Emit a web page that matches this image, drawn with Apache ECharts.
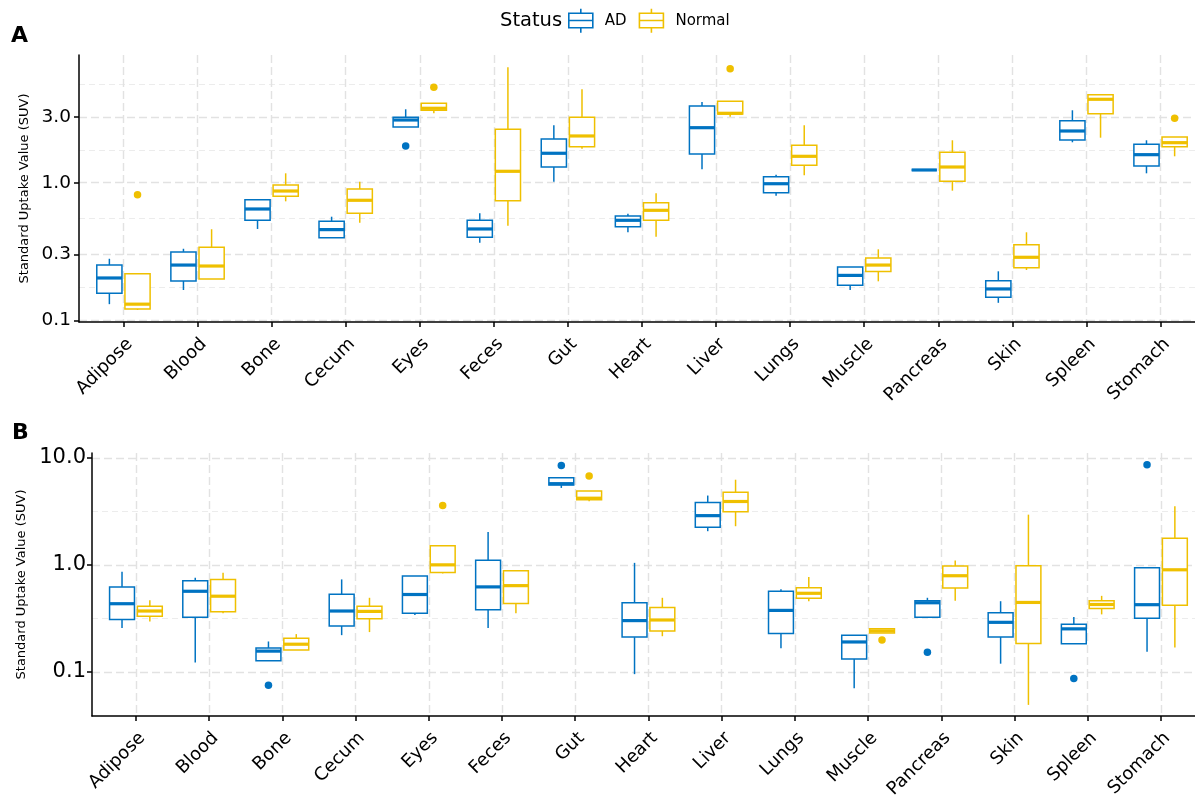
<!DOCTYPE html>
<html>
<head>
<meta charset="utf-8">
<script src="https://cdn.jsdelivr.net/npm/echarts@6/dist/echarts.min.js"></script>
<style>html,body{margin:0;padding:0;background:#fff}#chart{width:1195px;height:801px}</style>
</head>
<body>
<div id="chart"></div>
<script>
// ---------------- data ----------------
const CATEGORIES = ['Adipose','Blood','Bone','Cecum','Eyes','Feces','Gut','Heart','Liver','Lungs','Muscle','Pancreas','Skin','Spleen','Stomach'];
const GROUPS = ['AD','Normal'];

// Panel A : [lower whisker, Q1, median, Q3, upper whisker] (SUV)
const A_AD = [
  [0.131,0.157,0.203,0.252,0.280],
  [0.166,0.193,0.252,0.314,0.331],
  [0.461,0.533,0.644,0.752,0.752],
  [0.398,0.398,0.456,0.524,0.566],
  [2.540,2.540,2.855,2.988,3.415],
  [0.366,0.401,0.461,0.533,0.599],
  [1.017,1.300,1.636,2.078,2.613],
  [0.436,0.479,0.533,0.573,0.595],
  [1.251,1.616,2.510,3.609,3.859],
  [0.804,0.846,0.983,1.106,1.143],
  [0.166,0.180,0.212,0.244,0.244],
  [1.237,1.237,1.237,1.237,1.237],
  [0.134,0.147,0.169,0.194,0.227],
  [1.966,2.043,2.375,2.822,3.359],
  [1.170,1.323,1.598,1.901,2.033]
];
const A_NORMAL = [
  [0.119,0.121,0.131,0.218,0.218],
  [0.200,0.200,0.248,0.339,0.459],
  [0.732,0.797,0.870,0.962,1.170],
  [0.512,0.599,0.745,0.900,1.017],
  [3.194,3.359,3.473,3.776,3.776],
  [0.487,0.740,1.210,2.444,6.898],
  [1.766,1.827,2.185,2.988,4.773],
  [0.405,0.533,0.630,0.716,0.838],
  [3.017,3.157,3.194,3.905,3.905],
  [1.132,1.338,1.555,1.870,2.613],
  [0.192,0.226,0.252,0.284,0.328],
  [0.875,1.024,1.300,1.663,2.033],
  [0.232,0.241,0.287,0.354,0.436],
  [2.123,3.173,4.037,4.360,4.360],
  [1.555,1.827,1.953,2.148,2.148]
];
// outliers: [category, SUV]
const A_AD_OUT = [['Eyes',1.848]];
const A_NORMAL_OUT = [['Adipose',0.818],['Eyes',4.935],['Liver',6.737],['Stomach',2.938]];

// Panel B
const B_AD = [
  [0.256,0.308,0.433,0.622,0.861],
  [0.122,0.323,0.566,0.711,0.758],
  [0.127,0.127,0.156,0.167,0.192],
  [0.220,0.268,0.370,0.531,0.731],
  [0.339,0.352,0.528,0.786,0.786],
  [0.256,0.381,0.622,1.106,2.034],
  [5.241,5.587,5.744,6.530,6.530],
  [0.095,0.211,0.301,0.442,1.044],
  [2.064,2.248,2.885,3.831,4.448],
  [0.166,0.228,0.375,0.566,0.590],
  [0.070,0.132,0.190,0.220,0.220],
  [0.323,0.323,0.442,0.461,0.492],
  [0.119,0.212,0.290,0.357,0.457],
  [0.183,0.183,0.252,0.278,0.325],
  [0.154,0.316,0.424,0.938,0.938]
];
const B_NORMAL = [
  [0.295,0.330,0.370,0.409,0.467],
  [0.352,0.365,0.509,0.731,0.843],
  [0.160,0.160,0.181,0.206,0.225],
  [0.235,0.314,0.367,0.411,0.492],
  [0.831,0.849,1.000,1.509,1.509],
  [0.352,0.435,0.639,0.880,0.886],
  [3.939,4.058,4.200,4.917,4.917],
  [0.215,0.241,0.305,0.400,0.492],
  [2.297,3.142,3.913,4.771,6.255],
  [0.457,0.488,0.542,0.612,0.769],
  [0.231,0.231,0.241,0.252,0.252],
  [0.461,0.609,0.791,0.973,1.096],
  [0.049,0.184,0.445,0.979,2.948],
  [0.344,0.391,0.426,0.461,0.513],
  [0.169,0.420,0.899,1.778,3.540]
];
const B_AD_OUT = [['Bone',0.0747],['Gut',8.486],['Pancreas',0.152],['Spleen',0.0867],['Stomach',8.613]];
const B_NORMAL_OUT = [['Eyes',3.594],['Gut',6.77],['Muscle',0.198]];

// tick labels (SUV, log scale)
const A_Y_TICKS = [0.1, 0.3, 1.0, 3.0];
const B_Y_TICKS = [0.1, 1.0, 10.0];
const A_Y_RANGE = [0.0972, 8.47];
const B_Y_RANGE = [0.0386, 11.12];

// ---------------- styling / helpers ----------------
const COLORS = {AD:'#0073C2', Normal:'#EFC000'};
const FONT = 'DejaVu Sans';
const BOX_W = 0.34, DODGE = 0.19;
const X_MIN = -0.6, X_MAX = 14.465;   // plot panel is cut at the right image edge
const lg = Math.log10;

function minorBreaks(ticks, range) {
  const b = ticks.map(lg);
  const bd = b[1] - b[0];
  const lo = lg(range[0]), hi = lg(range[1]);
  if (lo < b[0]) b.unshift(b[0] - bd);
  if (hi > b[b.length-1]) b.push(b[b.length-1] + bd);
  const out = [];
  for (let i = 0; i < b.length - 1; i++) {
    const m = (b[i] + b[i+1]) / 2;
    if (m > lo && m < hi) out.push(m);
  }
  return out;
}

function boxRender(offset, color) {
  return function (params, api) {
    const x = api.value(0) + offset;
    const pLo = api.coord([x, api.value(1)]);
    const pQ1 = api.coord([x, api.value(2)]);
    const pMed = api.coord([x, api.value(3)]);
    const pQ3 = api.coord([x, api.value(4)]);
    const pHi = api.coord([x, api.value(5)]);
    const hw = api.size([BOX_W, 0])[0] / 2;
    const cx = pMed[0];
    return {
      type: 'group',
      children: [
        {type:'line', shape:{x1:cx, y1:pQ3[1], x2:cx, y2:pHi[1]}, style:{stroke:color, lineWidth:1.5}},
        {type:'line', shape:{x1:cx, y1:pQ1[1], x2:cx, y2:pLo[1]}, style:{stroke:color, lineWidth:1.5}},
        {type:'rect', shape:{x:cx-hw, y:pQ3[1], width:2*hw, height:pQ1[1]-pQ3[1]}, style:{fill:'#ffffff', stroke:color, lineWidth:1.5}},
        {type:'line', shape:{x1:cx-hw, y1:pMed[1], x2:cx+hw, y2:pMed[1]}, style:{stroke:color, lineWidth:3.2}}
      ]
    };
  };
}

const catIdx = CATEGORIES.map((c, i) => i);
const gridLine = {show:true, lineStyle:{type:[8,4], color:'#e2e2e2', width:1.4}};
const minorLine = {show:true, lineStyle:{type:[6,4], color:'#ececec', width:1}};

function xAxis(gi) {
  return {
    type:'value', gridIndex:gi, min:X_MIN, max:X_MAX,
    axisLine:{show:true, onZero:false, lineStyle:{color:'#000', width:1.5}},
    axisTick:{show:true, customValues:catIdx, length:5, lineStyle:{color:'#000', width:1.5}},
    axisLabel:{customValues:catIdx, formatter:v => CATEGORIES[Math.round(v)], rotate:45,
               align:'right', verticalAlign:'top',
               fontSize:18, color:'#000', fontFamily:FONT, margin:13},
    splitLine:gridLine
  };
}
function yAxisMain(gi, ticks, range, fontSize, nameGap, margin) {
  const tv = ticks.map(lg);
  return {
    type:'value', gridIndex:gi, min:lg(range[0]), max:lg(range[1]),
    name:'Standard Uptake Value (SUV)', nameLocation:'middle', nameGap:nameGap,
    nameTextStyle:{fontSize:13, color:'#000', fontFamily:FONT},
    axisLine:{show:true, onZero:false, lineStyle:{color:'#000', width:1.5}},
    axisTick:{show:true, customValues:tv, length:5, lineStyle:{color:'#000', width:1.5}},
    axisLabel:{customValues:tv, formatter:v => Math.pow(10, v).toFixed(1),
               fontSize:fontSize, color:'#000', fontFamily:FONT, margin:margin},
    splitLine:gridLine
  };
}
function yAxisMinor(gi, ticks, range) {
  const mv = minorBreaks(ticks, range);
  return {
    type:'value', gridIndex:gi, min:lg(range[0]), max:lg(range[1]), position:'left',
    axisLine:{show:false}, axisLabel:{show:false},
    axisTick:{show:false, customValues:mv},
    splitLine:minorLine
  };
}

function boxSeries(name, rows, xi, yi, offset) {
  return {
    type:'custom', name:name, xAxisIndex:xi, yAxisIndex:yi,
    renderItem:boxRender(offset, COLORS[name]),
    encode:{x:0, y:[1,2,3,4,5]},
    itemStyle:{color:COLORS[name]},
    data:rows.map((r, i) => [i].concat(r.map(lg))),
    z:3, silent:true
  };
}
function outlierSeries(name, pts, xi, yi, offset) {
  return {
    type:'scatter', name:name, xAxisIndex:xi, yAxisIndex:yi,
    symbol:'circle', symbolSize:7.5,
    itemStyle:{color:COLORS[name], opacity:1},
    data:pts.map(p => [CATEGORIES.indexOf(p[0]) + offset, lg(p[1])]),
    z:4, silent:true
  };
}

const iconPath = 'path://M0,4.5L24,4.5L24,19L0,19ZM0,11.75L24,11.75M12,0L12,4.5M12,19L12,24';

const option = {
  animation:false,
  backgroundColor:'#ffffff',
  textStyle:{fontFamily:FONT},
  legend:{
    selectedMode:false, left:568, top:8, padding:0, itemWidth:24, itemHeight:24, itemGap:12,
    textStyle:{fontSize:15, color:'#000', fontFamily:FONT, padding:[0,0,0,7]},
    data:GROUPS.map(g => ({name:g, icon:iconPath,
      itemStyle:{color:'rgba(0,0,0,0)', borderColor:COLORS[g], borderWidth:1.6}}))
  },
  graphic:[
    {type:'text', left:500, top:9, style:{text:'Status', fontSize:19.5, fill:'#000', fontFamily:FONT, lineHeight:24}},
    {type:'text', left:11, top:25, style:{text:'A', fontSize:22, fontWeight:'bold', fill:'#000', fontFamily:FONT}},
    {type:'text', left:12, top:422, style:{text:'B', fontSize:22, fontWeight:'bold', fill:'#000', fontFamily:FONT}}
  ],
  grid:[
    {left:79, right:0, top:55, height:267},
    {left:92, right:0, top:453, height:266}
  ],
  xAxis:[xAxis(0), xAxis(1)],
  yAxis:[
    yAxisMain(0, A_Y_TICKS, A_Y_RANGE, 18.5, 45, 8),
    yAxisMinor(0, A_Y_TICKS, A_Y_RANGE),
    yAxisMain(1, B_Y_TICKS, B_Y_RANGE, 21, 57, 6),
    yAxisMinor(1, B_Y_TICKS, B_Y_RANGE)
  ],
  series:[
    boxSeries('AD', A_AD, 0, 0, -DODGE),
    boxSeries('Normal', A_NORMAL, 0, 0, DODGE),
    outlierSeries('AD', A_AD_OUT, 0, 0, -DODGE),
    outlierSeries('Normal', A_NORMAL_OUT, 0, 0, DODGE),
    boxSeries('AD', B_AD, 1, 2, -DODGE),
    boxSeries('Normal', B_NORMAL, 1, 2, DODGE),
    outlierSeries('AD', B_AD_OUT, 1, 2, -DODGE),
    outlierSeries('Normal', B_NORMAL_OUT, 1, 2, DODGE)
  ]
};

const chart = echarts.init(document.getElementById('chart'), null, {renderer:'canvas'});
chart.setOption(option);
</script>
</body>
</html>
